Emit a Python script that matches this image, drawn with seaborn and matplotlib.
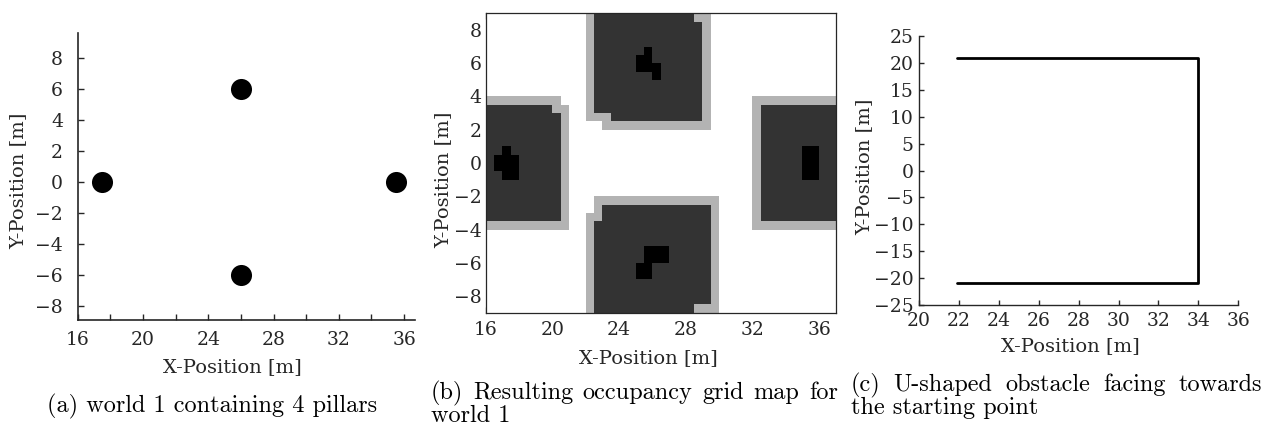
import numpy as np
import matplotlib
matplotlib.use("Agg")
import matplotlib.pyplot as plt
import seaborn as sns
from matplotlib.colors import ListedColormap
from matplotlib.ticker import MultipleLocator

# ---------------- data ----------------
# (a) pillar positions
pillar_x = [17.5, 26.0, 26.0, 35.5]
pillar_y = [0.0, 6.0, -6.0, 0.0]

# (b) occupancy grid, 0.5 m cells; regions given as (x0, x1, y0, y1) in metres
grid_cell = 0.5
grid_x_lim = (16.0, 37.0)
grid_y_lim = (-9.0, 9.0)
inflated_regions = [  # light grey safety margin
    (22.0, 29.5, 2.5, 9.0), (23.0, 29.5, 2.0, 2.5),
    (16.0, 20.5, 3.5, 4.0), (16.0, 21.0, -4.0, 3.5),
    (32.0, 37.0, -4.0, 4.0),
    (22.5, 30.0, -9.0, -2.0), (22.0, 22.5, -9.0, -3.0),
]
estimated_regions = [  # dark grey
    (22.5, 29.0, 3.0, 8.5), (23.5, 29.0, 2.5, 3.0), (22.5, 28.5, 8.5, 9.0),
    (16.0, 20.0, 3.0, 3.5), (16.0, 20.5, -3.5, 3.0),
    (32.5, 37.0, -3.5, 3.5),
    (23.0, 29.5, -8.5, -2.5), (22.5, 23.0, -8.5, -3.5), (22.5, 28.5, -9.0, -8.5),
]
occupied_regions = [  # black
    (25.5, 26.0, 6.5, 7.0), (25.0, 26.0, 5.5, 6.5), (26.0, 26.5, 5.0, 6.0),
    (17.0, 17.5, 0.5, 1.0), (16.5, 18.0, -0.5, 0.5), (17.0, 18.0, -1.0, -0.5),
    (35.0, 36.0, -1.0, 1.0),
    (25.5, 27.0, -6.0, -5.0), (25.0, 26.0, -7.0, -6.0),
]

# (c) U-shaped obstacle
u_x = [21.9, 34.0, 34.0, 21.9]
u_y = [21.0, 21.0, -21.0, -21.0]

captions = {
    "a": ["(a) world 1 containing 4 pillars"],
    "b": ["(b) Resulting occupancy grid map for", "world 1"],
    "c": ["(c) U-shaped obstacle facing towards", "the starting point"],
}

# ---------------- style ----------------
sns.set_style("ticks")
plt.rcParams["font.family"] = ["DejaVu Serif"]
TICK_FS = 13.5
LABEL_FS = 14
CAP_FS = 17.5
AXC = "#262626"

fig = plt.figure(figsize=(12.65, 4.34), dpi=100)
W, H = 1265, 434

def add_ax(l, r, t, b):
    return fig.add_axes([l / W, 1 - b / H, (r - l) / W, (b - t) / H])

axa = add_ax(77.7, 415.0, 33.3, 320.0)
axb = add_ax(485.7, 835.7, 13.3, 312.7)
axc = add_ax(919.0, 1238.3, 36.0, 305.0)

# ---- (a) ----
sns.scatterplot(x=pillar_x, y=pillar_y, ax=axa, s=230, color="black",
                edgecolor="black", linewidth=0, legend=False)
axa.set_xlim(16, 36.67)
axa.set_ylim(-8.93, 9.62)
axa.xaxis.set_major_locator(MultipleLocator(4))
axa.xaxis.set_minor_locator(MultipleLocator(2))
axa.set_yticks(np.arange(-8, 9, 2))
for s in ["top", "right"]:
    axa.spines[s].set_visible(False)
for s in ["left", "bottom"]:
    axa.spines[s].set_linewidth(1.2)
    axa.spines[s].set_color(AXC)
axa.tick_params(which="both", direction="in", length=4, width=1, color=AXC,
                labelsize=TICK_FS, labelcolor=AXC)
axa.tick_params(axis="y", pad=10.5)
axa.tick_params(axis="x", pad=8)

# ---- (b) ----
nx = int(round((grid_x_lim[1] - grid_x_lim[0]) / grid_cell))
ny = int(round((grid_y_lim[1] - grid_y_lim[0]) / grid_cell))
grid = np.zeros((ny, nx))
for level, regions in ((1, inflated_regions), (2, estimated_regions), (3, occupied_regions)):
    for x0, x1, y0, y1 in regions:
        c0 = int(round((x0 - grid_x_lim[0]) / grid_cell))
        c1 = int(round((x1 - grid_x_lim[0]) / grid_cell))
        r0 = int(round((grid_y_lim[1] - y1) / grid_cell))
        r1 = int(round((grid_y_lim[1] - y0) / grid_cell))
        grid[r0:r1, c0:c1] = level

cmap = ListedColormap(["#ffffff", "#b3b3b3", "#333333", "#000000"])
sns.heatmap(grid, ax=axb, cmap=cmap, vmin=-0.5, vmax=3.5, cbar=False,
            xticklabels=False, yticklabels=False)
bx_ticks = np.arange(16, 37, 4)
by_ticks = np.arange(8, -9, -2)
axb.set_xticks((bx_ticks - grid_x_lim[0]) / grid_cell)
axb.set_xticklabels([str(v) for v in bx_ticks])
axb.set_yticks((grid_y_lim[1] - by_ticks) / grid_cell)
axb.set_yticklabels([str(v).replace("-", "\u2212") for v in by_ticks], rotation=0)
for s in axb.spines.values():
    s.set_visible(True)
    s.set_linewidth(0.9)
    s.set_color(AXC)
axb.tick_params(direction="in", top=True, right=True, length=4, width=0.9,
                color=AXC, labelsize=TICK_FS, labelcolor=AXC)
axb.tick_params(axis="y", pad=3)
axb.tick_params(axis="x", pad=6)

# ---- (c) ----
sns.lineplot(x=u_x, y=u_y, ax=axc, sort=False, estimator=None, color="black",
             linewidth=2.0)
axc.set_xlim(20, 36)
axc.set_ylim(-25, 25)
axc.set_xticks(np.arange(20, 37, 2))
axc.set_yticks(np.arange(-25, 26, 5))
for s in ["top", "right"]:
    axc.spines[s].set_visible(False)
for s in ["left", "bottom"]:
    axc.spines[s].set_linewidth(1.0)
    axc.spines[s].set_color(AXC)
axc.tick_params(direction="in", length=3.5, width=1, color=AXC,
                labelsize=TICK_FS, labelcolor=AXC)
axc.tick_params(axis="y", pad=4)
axc.tick_params(axis="x", pad=5)

# ---- labels ----
for ax, (xx, xy), (yx, yy) in (
    (axa, (0.460, -0.164), (-0.177, 0.485)),
    (axb, (0.464, -0.151), (-0.122, 0.443)),
    (axc, (0.473, -0.152), (-0.172, 0.513)),
):
    ax.set_xlabel("X-Position [m]", fontsize=LABEL_FS, color=AXC)
    ax.set_ylabel("Y-Position [m]", fontsize=LABEL_FS, color=AXC)
    ax.xaxis.set_label_coords(xx, xy)
    ax.yaxis.set_label_coords(yx, yy)
    ax.xaxis.label.set_va("center")
    ax.yaxis.label.set_va("center")

# ---- captions (LaTeX-like: multi-line captions are justified) ----
renderer = fig.canvas.get_renderer()
cap_box = {"a": (46.7, None, [406]), "b": (430.7, 838.0, [393, 416]),
           "c": (850.7, 1262.0, [385, 408])}
for k, lines in captions.items():
    x0, x1, ys = cap_box[k]
    for i, (line, yy) in enumerate(zip(lines, ys)):
        justify = x1 is not None and i < len(lines) - 1
        if not justify:
            fig.text(x0 / W, 1 - yy / H, line, fontfamily="cmr10", fontsize=CAP_FS,
                     ha="left", va="center", color="black")
            continue
        words = line.split(" ")
        objs = [fig.text(0, 1 - yy / H, w, fontfamily="cmr10", fontsize=CAP_FS,
                         ha="left", va="center", color="black") for w in words]
        widths = [o.get_window_extent(renderer).width for o in objs]
        gap = (x1 - x0 - sum(widths)) / (len(words) - 1)
        xc = x0
        for o, wd in zip(objs, widths):
            o.set_x(xc / W)
            xc += wd + gap

fig.savefig("out.png", dpi=100)
